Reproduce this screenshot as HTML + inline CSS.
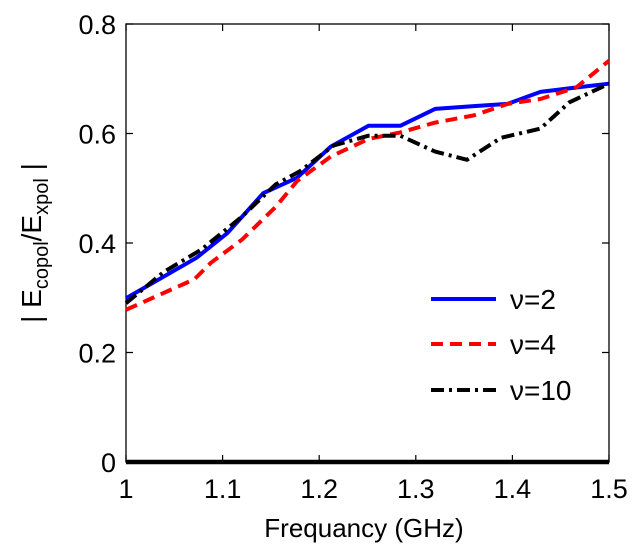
<!DOCTYPE html>
<html><head><meta charset="utf-8"><style>
html,body{margin:0;padding:0;background:#fff;}
svg{display:block;font-family:"Liberation Sans",Arial,sans-serif;}
</style></head><body>
<svg id="chart" width="634" height="552" viewBox="0 0 634 552" xmlns="http://www.w3.org/2000/svg"></svg>
<script>
const freqBlue = [1.0,1.073,1.105,1.142,1.177,1.212,1.251,1.284,1.320,1.360,1.395,1.429,1.466,1.5];
const valBlue  = [0.299,0.373,0.418,0.491,0.519,0.576,0.614,0.614,0.645,0.650,0.654,0.676,0.684,0.691];
const freqRed  = [1.0,1.071,1.088,1.120,1.155,1.177,1.212,1.251,1.284,1.320,1.360,1.395,1.429,1.466,1.5];
const valRed   = [0.278,0.334,0.364,0.406,0.466,0.513,0.558,0.590,0.602,0.620,0.633,0.654,0.663,0.684,0.733];
const freqBlack= [1.0,1.039,1.078,1.120,1.155,1.180,1.215,1.251,1.284,1.320,1.353,1.388,1.429,1.459,1.5];
const valBlack = [0.290,0.347,0.388,0.448,0.507,0.531,0.578,0.596,0.596,0.567,0.552,0.592,0.609,0.657,0.691];
const xTicks = [1,1.1,1.2,1.3,1.4,1.5];
const xTickLabels = ["1","1.1","1.2","1.3","1.4","1.5"];
const yTicks = [0,0.2,0.4,0.6,0.8];
const yTickLabels = ["0","0.2","0.4","0.6","0.8"];
const legendLabels = ["ν=2","ν=4","ν=10"];

const L=126,R=609,T=24,B=462, X0=1,X1=1.5,Y0=0,Y1=0.8;
const sx=v=>L+(v-X0)/(X1-X0)*(R-L);
const sy=v=>B-(v-Y0)/(Y1-Y0)*(B-T);
const svg=document.getElementById('chart');
const NS='http://www.w3.org/2000/svg';
function mk(tag,attrs,parent){const e=document.createElementNS(NS,tag);for(const k in attrs)e.setAttribute(k,attrs[k]);(parent||svg).appendChild(e);return e;}

const frame=mk('rect',{x:L,y:T,width:R-L,height:B-T,fill:'none',stroke:'#000','stroke-width':1.3});



xTicks.forEach((t,i)=>{
  const x=sx(t);
  const tk=mk('path',{d:`M${x},${B} V${B-7} M${x},${T} V${T+7}`,stroke:'#000','stroke-width':1.2});
  
  
  const lb=mk('text',{x:x,y:498,'font-size':27,'text-anchor':'middle',fill:'#000'});
  lb.textContent=xTickLabels[i];
  
  
});
yTicks.forEach((t,i)=>{
  const y=sy(t);
  const tk=mk('path',{d:`M${L},${y} H${L+7} M${R},${y} H${R-7}`,stroke:'#000','stroke-width':1.2});
  
  
  const lb=mk('text',{x:116,y:y+10,'font-size':27,'text-anchor':'end',fill:'#000'});
  lb.textContent=yTickLabels[i];
  
  
});

const series=[
  {f:freqBlue,v:valBlue,c:'#0000ff',d:'',n:'series-nu-2'},
  {f:freqRed,v:valRed,c:'#ff0000',d:'12,7',n:'series-nu-4'},
  {f:freqBlack,v:valBlack,c:'#000000',d:'13,5,3,5',n:'series-nu-10'}
];
series.forEach(s=>{
  const pts=s.f.map((f,i)=>sx(f).toFixed(1)+','+sy(s.v[i]).toFixed(1)).join(' ');
  const a={points:pts,fill:'none',stroke:s.c,'stroke-width':4,'stroke-linejoin':'round'};
  if(s.d)a['stroke-dasharray']=s.d;
  const pl=mk('polyline',a);
  
  
});

const zl=mk('line',{x1:L,y1:B,x2:R,y2:B,stroke:'#000','stroke-width':4.5});



const legY=[299,344,390];
series.forEach((s,i)=>{
  const a={x1:431,y1:legY[i],x2:496,y2:legY[i],stroke:s.c,'stroke-width':4};
  if(s.d)a['stroke-dasharray']=s.d;
  const ln=mk('line',a);
  
  
  const tx=mk('text',{x:510,y:legY[i]+10,'font-size':28,fill:'#000'});
  tx.textContent=legendLabels[i];
  
  
});

const xt=mk('text',{x:364,y:537,'font-size':26,'text-anchor':'middle',fill:'#000'});
xt.textContent='Frequancy (GHz)';



const yt=mk('text',{x:0,y:0,'font-size':28,'text-anchor':'middle',fill:'#000',transform:'translate(41,243) rotate(-90)'});
yt.innerHTML='| E<tspan font-size="20" dy="7">copol</tspan><tspan dy="-7">/E</tspan><tspan font-size="20" dy="7">xpol</tspan><tspan dy="-7"> |</tspan>';


</script>
</body></html>
